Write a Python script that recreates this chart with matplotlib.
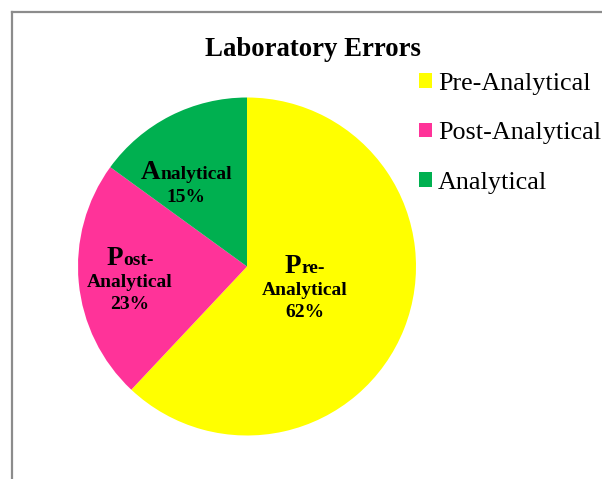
import matplotlib.pyplot as plt
from matplotlib.patches import Patch
from matplotlib.lines import Line2D

plt.rcParams['font.family'] = ['Liberation Serif', 'DejaVu Serif']

categories = ['Pre-Analytical', 'Post-Analytical', 'Analytical']
values = [62, 23, 15]
colors = ['#FFFF00', '#FF3399', '#00B050']
# label text split: big first letter, rest of first line, remaining lines
label_lines = [
    ('P', 're-', ['Analytical', '62%']),
    ('P', 'ost-', ['Analytical', '23%']),
    ('A', 'nalytical', ['15%']),
]
# baseline of first label line, in pie data units
label_xy = [(0.343, -0.038), (-0.692, 0.009), (-0.359, 0.516)]

W, H = 602, 479
fig = plt.figure(figsize=(W / 100, H / 100), dpi=100)

# pie area in pixels: center (247, 266.5), radius 169
cx, cy, r = 247, 266.5, 169
ax = fig.add_axes([(cx - r) / W, (H - cy - r) / H, 2 * r / W, 2 * r / H])
ax.pie(values, colors=colors, startangle=90, counterclock=False,
       wedgeprops=dict(linewidth=0))
ax.set_xlim(-1, 1)
ax.set_ylim(-1, 1)
ax.set_aspect('equal')
ax.axis('off')

small = dict(fontsize=14, fontweight='bold', color='black')
big = dict(fontsize=19.5, fontweight='bold', color='black')
line_gap = 16  # points between baselines

heads = []
for (first, rest, others), xy in zip(label_lines, label_xy):
    t1 = ax.annotate(first, xy, xytext=(0, 0), textcoords='offset points',
                     ha='left', va='baseline', **big)
    t2 = ax.annotate(rest, xy, xytext=(0, 0), textcoords='offset points',
                     ha='left', va='baseline', **small)
    heads.append((t1, t2))
    for i, t in enumerate(others):
        ax.annotate(t, xy, xytext=(0, -line_gap * (i + 1)),
                    textcoords='offset points', ha='center', va='baseline',
                    **small)

# center the mixed-size first line
fig.canvas.draw()
rend = fig.canvas.get_renderer()
for t1, t2 in heads:
    w1 = t1.get_window_extent(rend).width * 0.72
    w2 = t2.get_window_extent(rend).width * 0.72
    start = -(w1 + w2) / 2
    t1.xyann = (start, 0)
    t2.xyann = (start + w1, 0)

fig.text(313 / W, 1 - 56 / H, 'Laboratory Errors', ha='center',
         va='baseline', fontsize=19.3, fontweight='bold')

handles = [Patch(facecolor=c, edgecolor='none') for c in colors]
fig.legend(handles, categories, loc='upper left',
           bbox_to_anchor=(419 / W, 1 - 73 / H), frameon=False,
           fontsize=18.8, handlelength=0.48, handleheight=0.48,
           handletextpad=0.25, labelspacing=1.05, borderpad=0, borderaxespad=0)

# outer chart border (only top and left visible in the crop)
fig.add_artist(Line2D([11.5 / W, 11.5 / W], [0, 1 - 12 / H],
                      color='#8c8c8c', linewidth=1.6, transform=fig.transFigure))
fig.add_artist(Line2D([11.5 / W, 1], [1 - 12 / H, 1 - 12 / H],
                      color='#8c8c8c', linewidth=1.6, transform=fig.transFigure))

fig.savefig('out.png', dpi=100)
